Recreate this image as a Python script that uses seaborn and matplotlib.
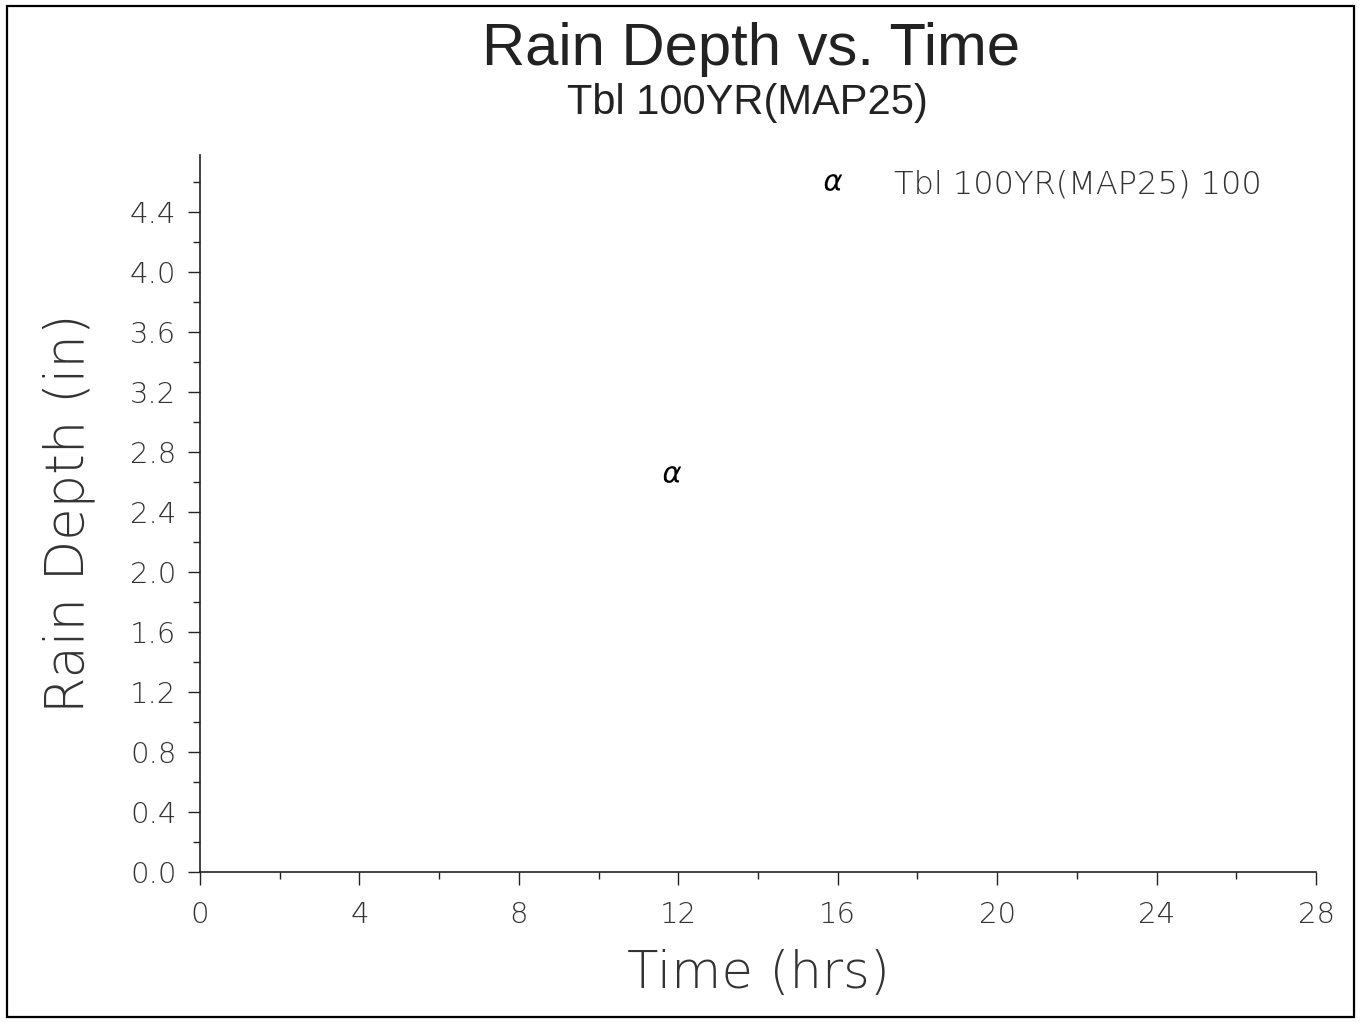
import matplotlib
matplotlib.use("Agg")
import matplotlib.pyplot as plt
import seaborn as sns
import pandas as pd
import numpy as np
from matplotlib.ticker import MultipleLocator
from matplotlib.patches import Rectangle

# Data
time_hrs = [11.85]
rain_depth_in = [2.65]
series_name = "Tbl 100YR(MAP25) 100"
x_ticks = [0, 4, 8, 12, 16, 20, 24, 28]
y_ticks = [0.0, 0.4, 0.8, 1.2, 1.6, 2.0, 2.4, 2.8, 3.2, 3.6, 4.0, 4.4]

df = pd.DataFrame({"Time": time_hrs, "Depth": rain_depth_in, "Series": [series_name] * len(time_hrs)})

sns.set_theme(style="white")
plt.rcParams['font.family'] = ['DejaVu Sans']

fig = plt.figure(figsize=(13.61, 10.22), dpi=100)
ax = fig.add_axes([200/1361, 150/1022, 1116/1361, 717/1022])

sns.scatterplot(data=df, x="Time", y="Depth", hue="Series", palette=["black"],
                marker=r"$\alpha$", s=160, linewidth=0, ax=ax, legend=True)

ax.set_xlim(0, 28)
ax.set_ylim(0, 4.78)
ax.set_xticks(x_ticks)
ax.set_yticks(y_ticks)
ax.set_xticklabels([str(v) for v in x_ticks])
ax.set_yticklabels([f"{v:.1f}" for v in y_ticks])
ax.xaxis.set_minor_locator(MultipleLocator(2))
ax.yaxis.set_minor_locator(MultipleLocator(0.2))
ax.tick_params(axis='both', which='major', direction='out', length=9, width=1.0,
               colors='#222222', labelsize=21, bottom=True, left=True)
ax.tick_params(axis='x', which='major', pad=12)
ax.tick_params(axis='y', which='major', pad=8)
ax.tick_params(axis='both', which='minor', direction='out', length=5, width=1.0,
               colors='#222222', bottom=True, left=True)
for lab in ax.get_xticklabels() + ax.get_yticklabels():
    lab.set_fontweight('light')
    lab.set_color('#333333')

for s in ['top', 'right']:
    ax.spines[s].set_visible(False)
for s in ['left', 'bottom']:
    ax.spines[s].set_color('#222222')
    ax.spines[s].set_linewidth(1.2)

ax.set_xlabel("Time (hrs)", fontsize=37, fontweight='light', color='#333333', labelpad=14)
ax.set_ylabel("Rain Depth (in)", fontsize=38, fontweight='light', color='#333333', labelpad=25)

fig.text(0.552, 0.952, "Rain Depth vs. Time", ha='center', va='center', fontsize=43, color='#222222',
         family='Liberation Sans')
fig.text(0.549, 0.899, "Tbl 100YR(MAP25)", ha='center', va='center', fontsize=30, color='#222222',
         family='Liberation Sans')

leg = ax.legend(loc='upper right', bbox_to_anchor=(0.977, 1.02), frameon=False, fontsize=23,
                handletextpad=0.9, markerscale=1.0)
for t in leg.get_texts():
    t.set_fontweight('light')
    t.set_color('#333333')

# figure border
fig.patches.append(Rectangle((0.005, 0.005), 0.99, 0.989, transform=fig.transFigure,
                             fill=False, edgecolor='black', linewidth=1.6))

fig.savefig("out.png", dpi=100, facecolor='white')
